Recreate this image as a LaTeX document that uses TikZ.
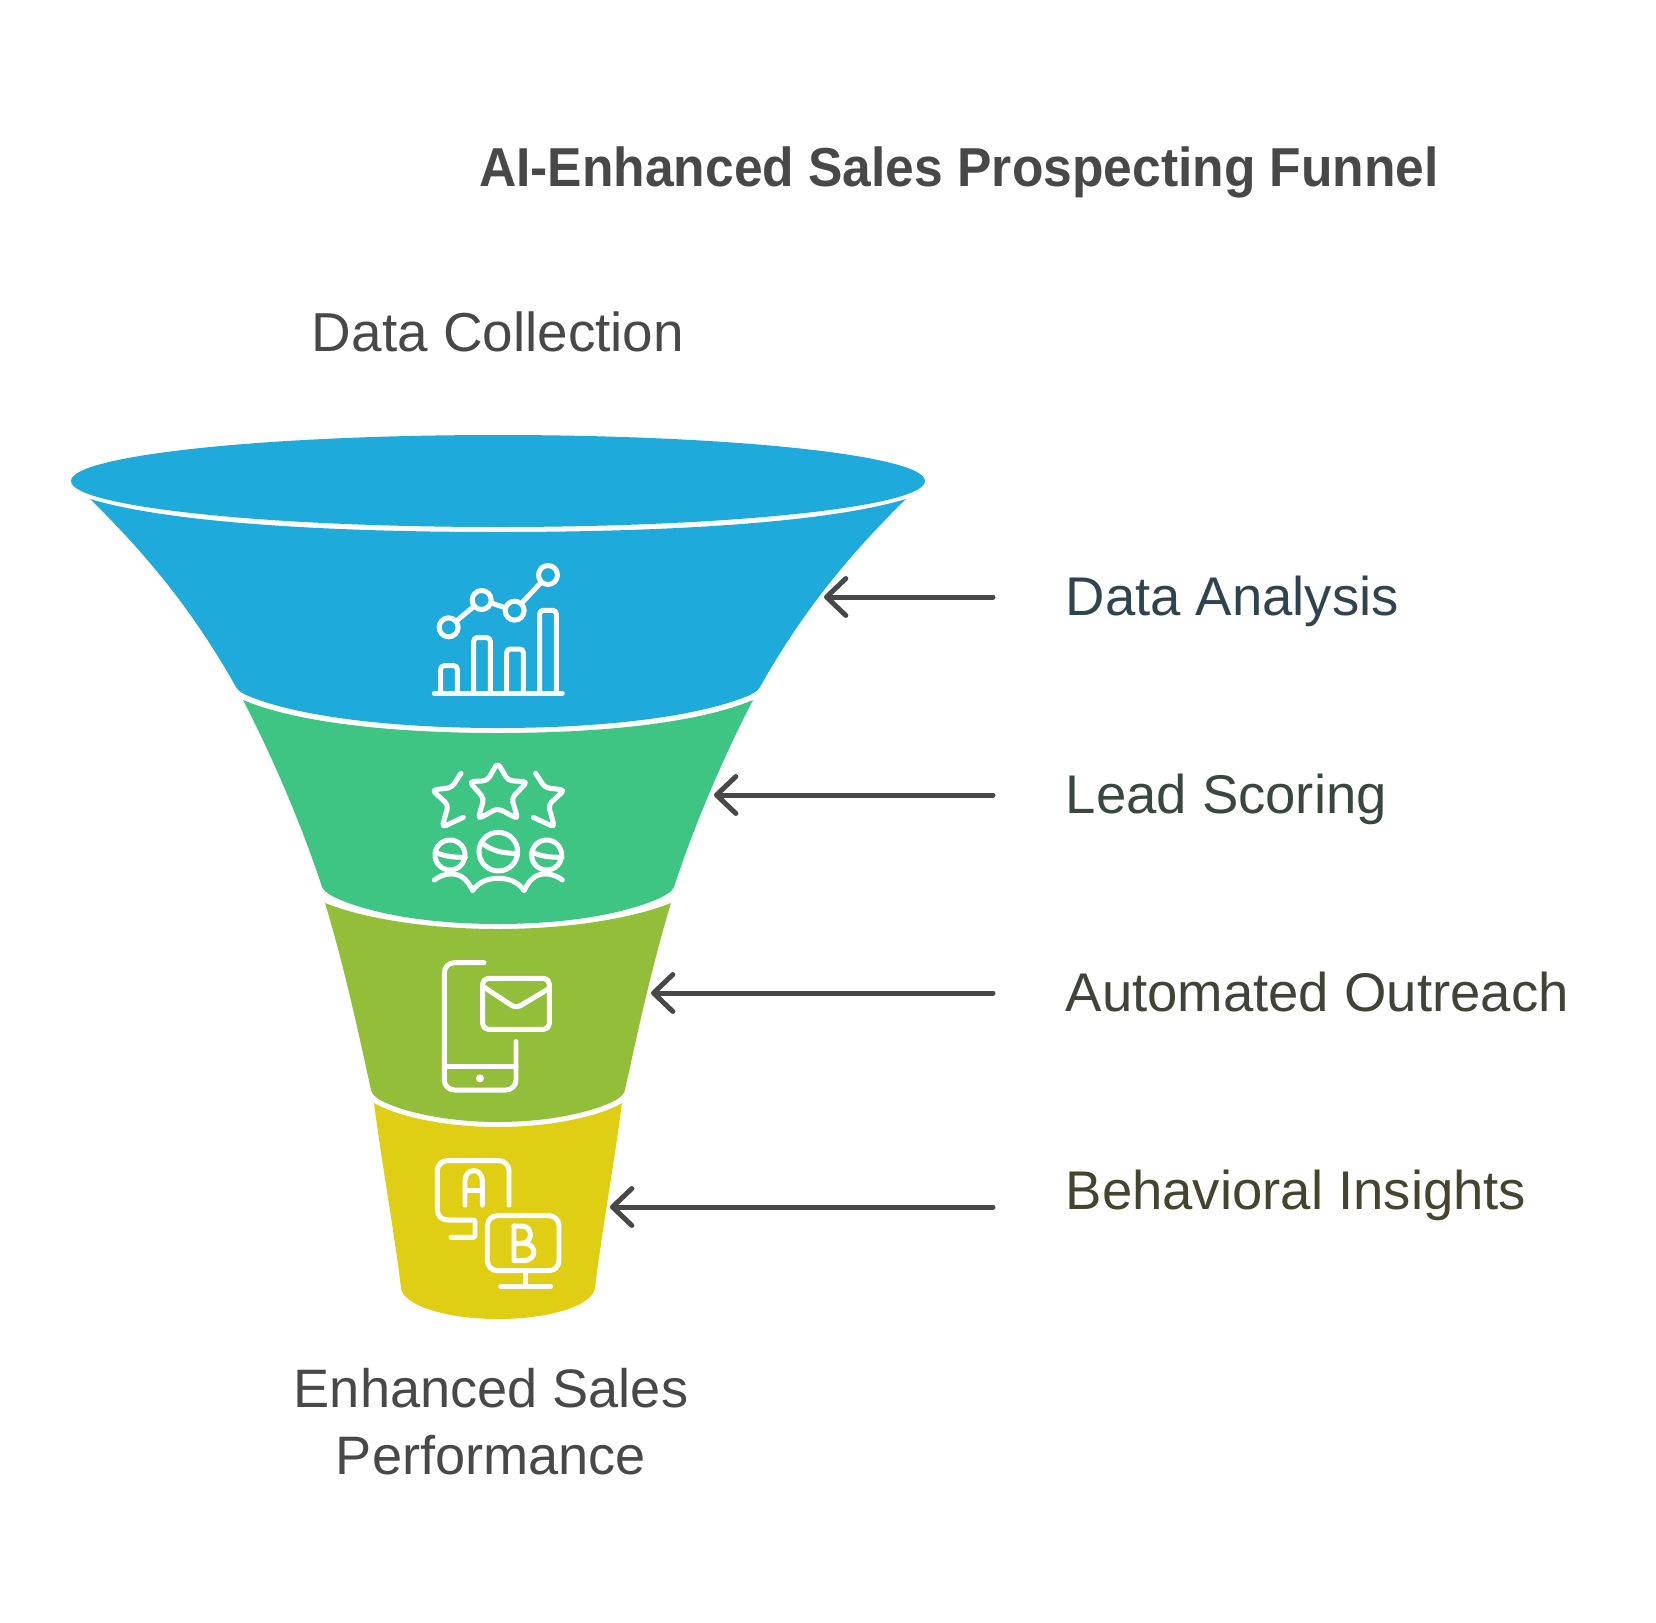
\documentclass[tikz,border=0pt]{standalone}
\usepackage{fontspec}
\setmainfont{Liberation Sans}[BoldFeatures={FakeStretch=0.94}]
\usetikzlibrary{arrows.meta}
\definecolor{funnelblue}{RGB}{30,170,219}
\definecolor{funnelgreen}{RGB}{63,197,131}
\definecolor{funnelolive}{RGB}{147,190,58}
\definecolor{funnelyellow}{RGB}{224,206,21}
\definecolor{inkgray}{RGB}{72,72,72}
\definecolor{inkblue}{RGB}{48,68,79}
\definecolor{inkgreen}{RGB}{56,72,63}
\definecolor{inkolive}{RGB}{64,68,56}
\definecolor{inkyellow}{RGB}{69,69,47}
\tikzstyle{icon} = [draw=white, line width=1.42pt, line cap=round, line join=round]
\tikzstyle{dot} = [circle, icon, minimum size=5.4pt, inner sep=0pt]
\tikzstyle{pointer} = [->, >={Straight Barb[length=5.5pt,width=10.5pt,round]}, draw=inkgray, line width=1.42pt, line cap=round]
\tikzstyle{heading} = [font=\fontsize{15.6}{18.8}\selectfont, text=inkgray, inner sep=0pt]
\tikzstyle{side} = [anchor=base west, font=\fontsize{15.5}{18.8}\selectfont, inner sep=0pt]

\begin{document}
\begin{tikzpicture}[x=0.01cm,y=-0.01cm]
    \useasboundingbox (0,0) rectangle (1656,1623);
    \node[anchor=base, font=\fontsize{15.6}{18}\selectfont\bfseries, text=inkgray] (title) at (959,186) {AI-Enhanced Sales Prospecting Funnel};
    \node[heading, anchor=base] (collection) at (498,351) {Data Collection};
    \node[heading, anchor=base, align=center, font=\fontsize{15.4}{18.8}\selectfont] (performance) at (491,1474) {Enhanced Sales\\[0pt]Performance};

    \fill[funnelblue] (498,481) ellipse [x radius=427, y radius=46];
    \fill[funnelblue] (90,499) .. controls (170,523) and (330,532) .. (498,532) .. controls (666,532) and (826,523) .. (906,499)
        .. controls (856,548) and (806,605) .. (760,687) .. controls (757,691) .. (750,695)
        .. controls (696,718) and (596,728) .. (498,728) .. controls (400,728) and (300,718) .. (246,695)
        .. controls (239,691) .. (236,687) .. controls (190,605) and (140,548) .. (90,499) -- cycle;
    \fill[funnelgreen] (243,700) .. controls (300,724) and (400,733) .. (498,733) .. controls (596,733) and (696,724) .. (753,700)
        .. controls (726,752) and (696,820) .. (674,887) .. controls (672,891) .. (662,897)
        .. controls (626,914) and (566,924) .. (498,924) .. controls (430,924) and (370,914) .. (334,897)
        .. controls (324,891) .. (322,887) .. controls (300,820) and (270,752) .. (243,700) -- cycle;
    \fill[funnelolive] (325,903) .. controls (365,919) and (430,929) .. (498,929) .. controls (566,929) and (631,919) .. (671,903)
        .. controls (653,962) and (638,1030) .. (625,1090) .. controls (623,1095) .. (616,1100)
        .. controls (591,1113) and (546,1122) .. (498,1122) .. controls (450,1122) and (405,1113) .. (380,1100)
        .. controls (373,1095) .. (371,1090) .. controls (358,1030) and (343,962) .. (325,903) -- cycle;
    \fill[funnelyellow] (374,1103) .. controls (400,1118) and (450,1127) .. (498,1127) .. controls (546,1127) and (596,1118) .. (622,1103)
        .. controls (614,1165) and (602,1230) .. (595,1288) .. controls (593,1305) and (551,1319) .. (498,1319)
        .. controls (445,1319) and (403,1305) .. (401,1288) .. controls (394,1230) and (382,1165) .. (374,1103) -- cycle;

    % chart icon
    \begin{scope}[shift={(400,540)},scale=1/3]
        \node[dot] (pa) at (146,262) {};
        \node[dot] (pb) at (245,180) {};
        \node[dot] (pc) at (344,212) {};
        \node[dot] (pd) at (444,105) {};
        \draw[icon] (pa) -- (pb);
        \draw[icon] (pb) -- (pc);
        \draw[icon] (pc) -- (pd);
        \draw[icon] (103,460) -- (487,460);
        \draw[icon, rounded corners=1pt] (122,460) -- (122,377) -- (172,377) -- (172,460);
        \draw[icon, rounded corners=1pt] (221,460) -- (221,293) -- (271,293) -- (271,460);
        \draw[icon, rounded corners=1pt] (320,460) -- (320,327) -- (370,327) -- (370,460);
        \draw[icon, rounded corners=1pt] (419,460) -- (419,211) -- (469,211) -- (469,460);
    \end{scope}

    % stars and people icon
    \begin{scope}[shift={(400,740)},scale=1/3]
        \draw[icon, rounded corners=1.2pt] (293,68) -- (325,122) -- (382,125) -- (335,175) -- (354,237) -- (293,205) -- (234,237) -- (252,175) -- (208,125) -- (262,122) -- cycle;
        \draw[icon, rounded corners=1.2pt] (183,100) -- (155,143) -- (96,150) -- (145,195) -- (126,262) -- (190,232);
        \draw[icon, rounded corners=1.2pt] (407,100) -- (435,143) -- (494,150) -- (445,195) -- (464,262) -- (400,232);
        \draw[icon] (295,335) circle [radius=58];
        \draw[icon] (150,345) circle [radius=45];
        \draw[icon] (440,345) circle [radius=45];
        \draw[icon] (250,312) .. controls (275,332) and (310,340) .. (345,340);
        \draw[icon] (110,338) .. controls (135,350) and (165,352) .. (196,352);
        \draw[icon] (400,338) .. controls (425,350) and (455,352) .. (486,352);
        \draw[icon] (103,420) .. controls (125,402) and (160,395) .. (185,410) .. controls (200,420) and (210,435) .. (218,452)
            .. controls (235,425) and (265,415) .. (295,415) .. controls (325,415) and (355,425) .. (372,452)
            .. controls (380,435) and (390,420) .. (405,410) .. controls (430,395) and (465,402) .. (487,420);
    \end{scope}

    % phone icon
    \begin{scope}[shift={(400,940)},scale=1/3]
        \draw[icon, rounded corners=2.85pt] (252,68) -- (133,68) -- (133,450) -- (348,450) -- (348,305);
        \draw[icon] (133,380) -- (348,380);
        \fill[white] (240,415) circle [radius=12];
        \draw[icon, rounded corners=1.6pt] (248,115) rectangle (448,268);
        \draw[icon, rounded corners=1.6pt] (250,140) -- (348,205) -- (448,145);
    \end{scope}

    % AB test icon
    \begin{scope}[shift={(400,1140)},scale=1/3]
        \draw[icon, rounded corners=2.85pt] (327,195) -- (327,62) -- (112,62) -- (112,240) -- (160,240);
        \draw[icon, rounded corners=0.6pt] (160,240) -- (225,240) -- (225,292) -- (153,292);
        \draw[icon] (195,195) -- (195,122) .. controls (195,82) and (247,82) .. (247,122) -- (247,195);
        \draw[icon] (195,152) -- (247,152);
        \draw[icon, rounded corners=2.85pt] (262,227) rectangle (477,392);
        \draw[icon] (342,258) -- (342,362) -- (370,362) .. controls (412,362) and (412,310) .. (370,310) -- (342,310);
        \draw[icon] (342,258) -- (365,258) .. controls (400,258) and (400,310) .. (365,310);
        \draw[icon] (377,392) -- (377,440);
        \draw[icon] (302,440) -- (452,440);
    \end{scope}

    \node[side, text=inkblue] (analysis) at (1065,615) {Data Analysis};
    \node[side, text=inkgreen] (scoring) at (1065,813) {Lead Scoring};
    \node[side, text=inkolive] (outreach) at (1065,1011) {Automated Outreach};
    \node[side, text=inkyellow] (insights) at (1065,1209) {Behavioral Insights};

    \coordinate (fa) at (993,597);
    \coordinate (ta) at (824,597);
    \coordinate (fb) at (993,795);
    \coordinate (tb) at (714,795);
    \coordinate (fc) at (993,993);
    \coordinate (tc) at (651,993);
    \coordinate (fd) at (993,1207);
    \coordinate (td) at (610,1207);
    \draw[pointer] (fa) -- (ta);
    \draw[pointer] (fb) -- (tb);
    \draw[pointer] (fc) -- (tc);
    \draw[pointer] (fd) -- (td);
\end{tikzpicture}
\end{document}
